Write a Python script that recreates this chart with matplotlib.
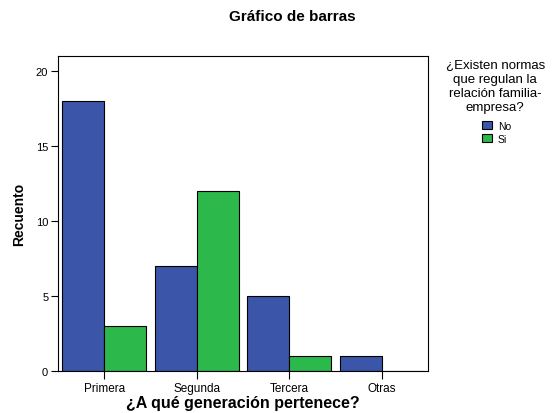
import numpy as np
import matplotlib.pyplot as plt
from matplotlib.patches import Patch

plt.rcParams['font.family'] = ['Liberation Sans', 'DejaVu Sans']

categories = ['Primera', 'Segunda', 'Tercera', 'Otras']
no_counts = [18, 7, 5, 1]
si_counts = [3, 12, 1, 0]
series_names = ['No', 'Si']
legend_title = ['¿Existen normas', 'que regulan la', 'relación familia-', 'empresa?']
colors = ['#3b55a8', '#2db84c']

fig = plt.figure(figsize=(5.52, 4.14), dpi=100)
ax = fig.add_axes([0.105, 0.101, 0.670, 0.761])

x = np.arange(len(categories))
w = 0.455
ax.bar(x - w / 2, no_counts, width=w, color=colors[0], edgecolor='black', linewidth=0.8)
ax.bar(x + w / 2, si_counts, width=w, color=colors[1], edgecolor='black', linewidth=0.8)

ax.set_xlim(-0.5, 3.5)
ax.set_ylim(0, 21)
ax.set_yticks([0, 5, 10, 15, 20])
ax.set_xticks(x)
ax.set_xticklabels(categories)
ax.tick_params(axis='y', direction='out', labelsize=8, length=5, width=0.8, pad=2)
ax.tick_params(axis='x', direction='out', labelsize=8.5, length=5.5, width=0.8, pad=2)
for s in ax.spines.values():
    s.set_linewidth(0.8)

ax.set_ylabel('Recuento', fontsize=10, fontweight='bold', labelpad=7)
ax.set_xlabel('¿A qué generación pertenece?', fontsize=11.5, fontweight='bold')
ax.xaxis.set_label_coords(0.5, -0.077)
fig.text(0.529, 0.959, 'Gráfico de barras', ha='center', va='center',
         fontsize=11, fontweight='bold')

# legend title, one line at a time
for i, line in enumerate(legend_title):
    fig.text(0.897, 0.841 - i * 0.0338, line, ha='center', va='center', fontsize=9.5)

handles = [Patch(facecolor=c, edgecolor='black', linewidth=0.8) for c in colors]
fig.legend(handles, series_names, loc='upper left', bbox_to_anchor=(0.874, 0.706),
           frameon=False, fontsize=7.5, handlelength=0.95, handleheight=0.75,
           handletextpad=0.55, labelspacing=0.3, borderpad=0, borderaxespad=0)

fig.savefig('out.png', dpi=100)
